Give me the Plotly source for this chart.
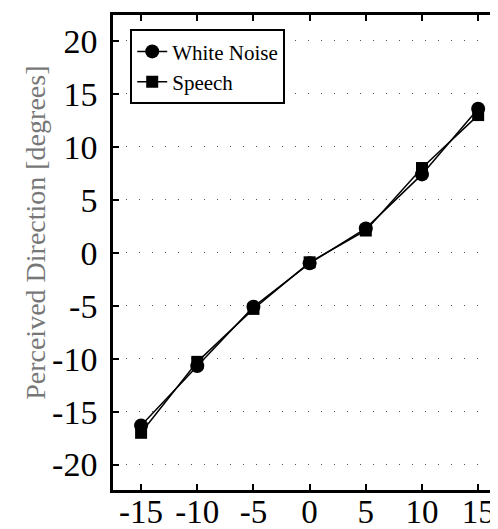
import plotly.graph_objects as go

x_vals = [-15, -10, -5, 0, 5, 10, 15]
white_noise = [-16.3, -10.7, -5.1, -1.0, 2.3, 7.4, 13.6]
speech = [-17.0, -10.3, -5.3, -0.9, 2.1, 8.0, 13.0]
y_ticks = [-20, -15, -10, -5, 0, 5, 10, 15, 20]
x_ticks = [-15, -10, -5, 0, 5, 10, 15]
y_title = "Perceived Direction [degrees]"

fig = go.Figure()
fig.add_trace(go.Scatter(x=x_vals, y=white_noise, name="White Noise", mode="lines+markers",
                         line=dict(color="black", width=1.5),
                         marker=dict(symbol="circle", size=14, color="black")))
fig.add_trace(go.Scatter(x=x_vals, y=speech, name="Speech", mode="lines+markers",
                         line=dict(color="black", width=1.5),
                         marker=dict(symbol="square", size=12, color="black")))

font_family = "Liberation Serif"
fig.update_layout(
    width=498, height=529,
    margin=dict(l=105, r=2, t=7, b=47),
    paper_bgcolor="white", plot_bgcolor="white",
    font=dict(family=font_family, color="black"),
    showlegend=True,
    legend=dict(x=0.044, y=0.97, xanchor="left", yanchor="top",
                bordercolor="black", borderwidth=2, bgcolor="white",
                font=dict(size=21, family=font_family, color="black"),
                tracegroupgap=0, itemwidth=30, entrywidth=135, entrywidthmode="pixels"),
    xaxis=dict(range=[-17.5, 17.3], tickvals=x_ticks, ticktext=[str(v) for v in x_ticks],
               ticks="inside", ticklen=6, tickwidth=1.5, tickcolor="black",
               showline=True, linecolor="black", linewidth=2.5, mirror="ticks",
               showgrid=False, zeroline=False, ticklabelstandoff=-9, automargin=False,
               tickfont=dict(size=33, family=font_family, color="black")),
    yaxis=dict(range=[-22.4, 22.45], tickvals=y_ticks, ticktext=[str(v) for v in y_ticks],
               ticks="inside", ticklen=6, tickwidth=1.5, tickcolor="black",
               showline=True, linecolor="black", linewidth=2.5, mirror="ticks",
               showgrid=True, gridcolor="#555", griddash="1px,12px", gridwidth=1,
               zeroline=False, ticklabelstandoff=6, automargin=False,
               tickfont=dict(size=34, family=font_family, color="black")),
    annotations=[dict(text=y_title, xref="paper", yref="paper",
                      x=-0.2, y=0.541, xanchor="center", yanchor="middle",
                      textangle=-90, showarrow=False,
                      font=dict(size=28, family=font_family, color="#777"))],
)
fig.write_html("out.html")
